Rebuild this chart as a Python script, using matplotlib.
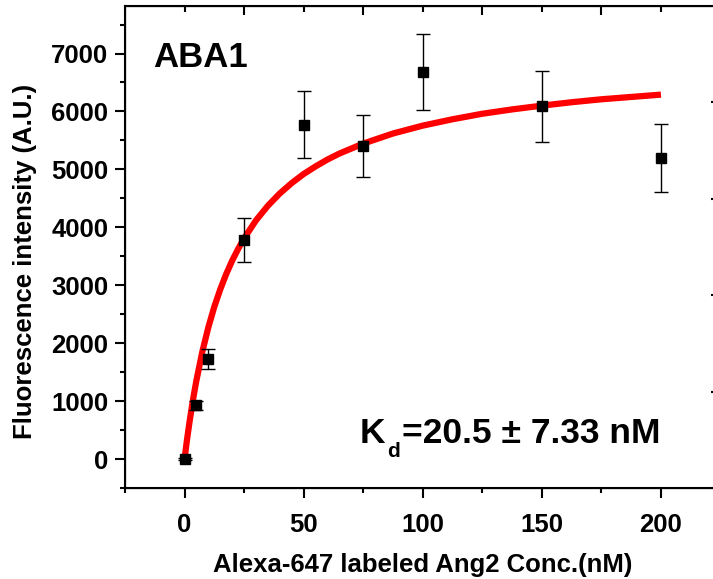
import numpy as np
import matplotlib
matplotlib.use('Agg')
import matplotlib.pyplot as plt
from matplotlib.transforms import offset_copy

plt.rcParams['font.family'] = ['Liberation Sans', 'DejaVu Sans']
plt.rcParams['font.weight'] = 'bold'

# measured points
conc = [0, 5, 10, 25, 50, 75, 100, 150, 200]
signal = [0, 927, 1727, 3777, 5774, 5405, 6683, 6091, 5198]
signal_err = [15, 80, 173, 380, 575, 538, 662, 610, 587]

# fitted curve
fit_conc = [0, 1, 2, 3, 4, 5, 7.5, 10, 12.5, 15, 17.5, 20, 22.5, 25, 30, 35,
            40, 45, 50, 55, 60, 65, 75, 87.5, 100, 112.5, 125, 137.5, 150,
            162.5, 175, 200]
fit_signal = [0, 325, 615, 885, 1132, 1360, 1860, 2275, 2630, 2930, 3194,
              3425, 3627, 3810, 4120, 4373, 4585, 4764, 4920, 5051, 5170,
              5273, 5445, 5619, 5755, 5865, 5960, 6035, 6100, 6159, 6210, 6290]

x_ticks = [0, 50, 100, 150, 200]
y_ticks = [0, 1000, 2000, 3000, 4000, 5000, 6000, 7000]

fig = plt.figure(figsize=(7.13, 5.79), dpi=100)
ax = fig.add_axes([125/713, 91/579, 595.5/713, 482/579])

ax.plot(fit_conc, fit_signal, color='#ff0000', lw=4.5, zorder=2,
        solid_capstyle='butt', solid_joinstyle='round')
ax.errorbar(conc, signal, yerr=signal_err, fmt='s', color='black', ms=7.5,
            ecolor='black', elinewidth=1.0, capsize=5, capthick=1.0, zorder=3)

ax.set_xlim(-25, 225)
ax.set_ylim(-500, 7820)
ax.set_xticks(x_ticks)
ax.set_xticks([-25, 25, 75, 125, 175, 225], minor=True)
ax.set_yticks(y_ticks)
ax.set_yticks(np.arange(-500, 7600, 1000), minor=True)

for s in ax.spines.values():
    s.set_linewidth(1.5)

ax.tick_params(axis='both', which='major', direction='out', length=7, width=1.5,
               labelsize=18.5)
ax.tick_params(axis='both', which='minor', direction='out', length=3.5, width=1.5)
ax.tick_params(axis='x', which='major', pad=11)
ax.tick_params(axis='y', which='major', pad=5)
ax.tick_params(top=False, right=False, which='both')

# top axis ticks
axt = ax.twiny()
axt.set_xlim(ax.get_xlim())
axt.set_xticks([25, 75, 125, 175])
axt.set_xticks([0, 50, 100, 150, 200], minor=True)
axt.tick_params(axis='x', which='major', direction='in', length=6.5, width=1.5,
                labeltop=False)
axt.tick_params(axis='x', which='minor', direction='in', length=4, width=1.5)

# right axis ticks
axr = ax.twinx()
axr.set_ylim(0, 1)
axr.set_yticks([0.2, 0.4, 0.6, 0.8])
axr.tick_params(axis='y', direction='in', length=6.5, width=1.5, labelright=False)

ax.set_xlabel('Alexa-647 labeled Ang2 Conc.(nM)', fontsize=18.5, fontweight='bold')
ax.set_ylabel('Fluorescence intensity (A.U.)', fontsize=18.5, fontweight='bold')
ax.xaxis.set_label_coords(0.5, -0.135)
ax.yaxis.set_label_coords(-0.148, 0.47)

ax.text(0.048, 0.874, 'ABA1', transform=ax.transAxes, fontsize=25,
        fontweight='bold', va='baseline', ha='left')

# K_d label, built from pieces so the subscript sits low like the original
renderer = fig.canvas.get_renderer()
t_k = ax.text(0.3946, 0.0934, 'K', transform=ax.transAxes, fontsize=25.5,
              fontweight='bold', va='baseline', ha='left')
wk = t_k.get_window_extent(renderer).width * 72 / fig.dpi
t_d = ax.text(0.3946, 0.0934, 'd',
              transform=offset_copy(ax.transAxes, fig=fig, x=wk + 1.5, y=-10,
                                    units='points'),
              fontsize=15, fontweight='bold', va='baseline', ha='left')
wd = t_d.get_window_extent(renderer).width * 72 / fig.dpi
ax.text(0.3946, 0.0934, '=20.5 ± 7.33 nM',
        transform=offset_copy(ax.transAxes, fig=fig, x=wk + wd + 2.5, y=0,
                              units='points'),
        fontsize=25.5, fontweight='bold', va='baseline', ha='left')

fig.savefig('out.png', dpi=100)
